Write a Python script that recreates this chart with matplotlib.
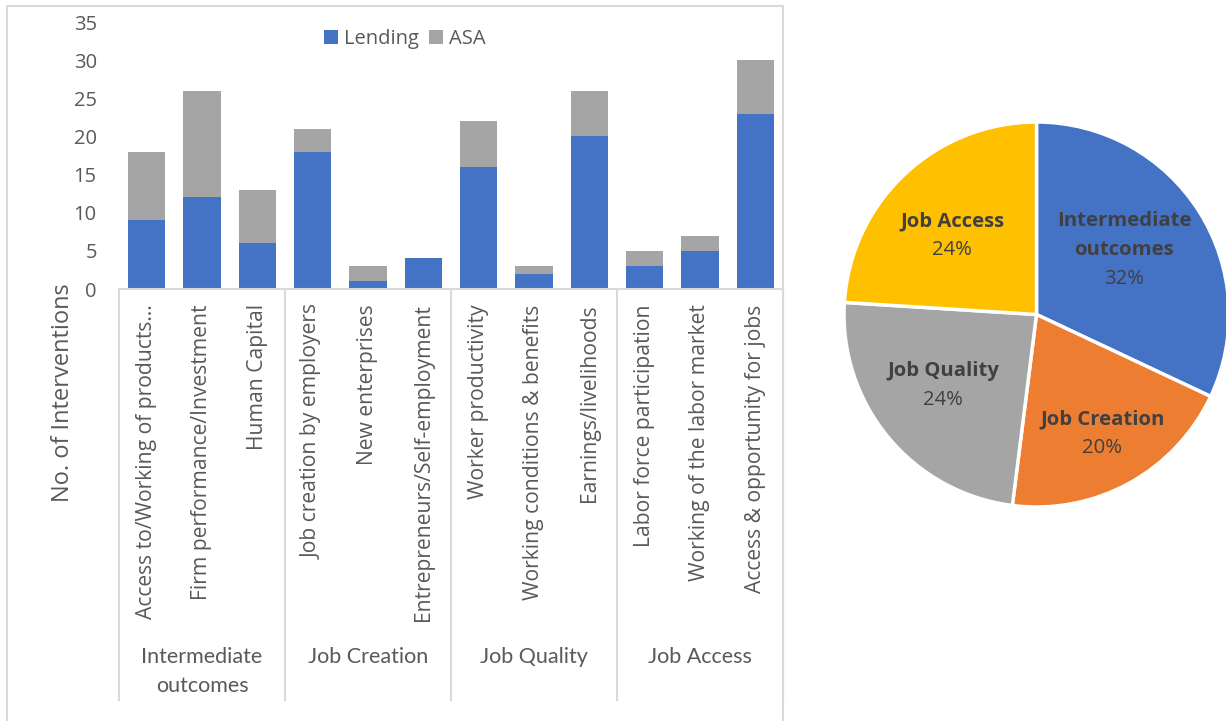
import numpy as np
import matplotlib
matplotlib.use("Agg")
import matplotlib.pyplot as plt
import matplotlib.transforms as mtransforms
from matplotlib.patches import Rectangle

# --- Data ---
categories = [
    "Access to/Working of products\u2026",
    "Firm performance/Investment",
    "Human Capital",
    "Job creation by employers",
    "New enterprises",
    "Entrepreneurs/Self-employment",
    "Worker productivity",
    "Working conditions & benefits",
    "Earnings/livelihoods",
    "Labor force participation",
    "Working of the labor market",
    "Access & opportunity for jobs",
]
groups = ["Intermediate\noutcomes", "Job Creation", "Job Quality", "Job Access"]
group_sizes = [3, 3, 3, 3]
lending = [9, 12, 6, 18, 1, 4, 16, 2, 20, 3, 5, 23]
asa = [9, 14, 7, 3, 2, 0, 6, 1, 6, 2, 2, 7]
yticks = [0, 5, 10, 15, 20, 25, 30, 35]

pie_labels = ["Intermediate\noutcomes", "Job Creation", "Job Quality", "Job Access"]
pie_shares = [32, 20, 24, 24]

# --- Style ---
BLUE = "#4472C4"
GRAY = "#A5A5A5"
ORANGE = "#ED7D31"
YELLOW = "#FFC000"
TXT = "#595959"
LINE = "#D9D9D9"
plt.rcParams["font.family"] = ["Open Sans", "DejaVu Sans"]

W, H = 1226, 721
fig = plt.figure(figsize=(W / 100, H / 100), dpi=100)

# --- Stacked bar chart ---
ax = fig.add_axes([119 / W, 1 - 289 / H, 664 / W, 267 / H])
x = np.arange(len(categories))
ax.bar(x, lending, width=0.67, color=BLUE, label="Lending", zorder=2)
ax.bar(x, asa, bottom=lending, width=0.67, color=GRAY, label="ASA", zorder=2)
ax.set_xlim(-0.5, len(categories) - 0.5)
ax.set_ylim(0, 35)
ax.set_yticks(yticks)
ax.tick_params(axis="y", length=0, pad=16, labelsize=14.5, labelcolor=TXT)
ax.set_xticks(x)
ax.set_xticklabels(categories, rotation=90, ha="center", va="top")
ax.tick_params(axis="x", length=0, pad=11, labelsize=15.2, labelcolor=TXT)
for s in ["top", "right", "left"]:
    ax.spines[s].set_visible(False)
ax.spines["bottom"].set_color(LINE)
ax.spines["bottom"].set_linewidth(1.5)

# group separators and group names below the category labels
blend = mtransforms.blended_transform_factory(ax.transData, fig.transFigure)
edges = np.concatenate([[0], np.cumsum(group_sizes)]) - 0.5
for e in edges:
    ax.plot([e, e], [1 - 289 / H, 1 - 700 / H], color=LINE, lw=1.5,
            transform=blend, clip_on=False, zorder=1)
for g, a, b in zip(groups, edges[:-1], edges[1:]):
    ax.text((a + b) / 2, 1 - 647 / H, g, transform=blend, ha="center", va="top",
            fontsize=15.5, color=TXT, family=["Lato", "DejaVu Sans"], linespacing=1.55)

ax.legend(loc="center", bbox_to_anchor=(0.43, 0.937), ncol=2, frameon=False,
          fontsize=14.5, labelcolor=TXT, handlelength=0.7, handleheight=0.7,
          handletextpad=0.3, columnspacing=0.5)

fig.text(63 / W, 1 - 393 / H, "No. of Interventions", rotation=90,
         ha="center", va="center", fontsize=17, color=TXT)

# chart area border
fig.add_artist(Rectangle((7 / W, -0.02), 776 / W, 1 - 6 / H + 0.02,
                         transform=fig.transFigure, fill=False,
                         edgecolor=LINE, lw=1.5))

# --- Pie chart ---
r_px = 192.5
cx, cy = 1036.5, 314.5
pax = fig.add_axes([(cx - r_px) / W, 1 - (cy + r_px) / H, 2 * r_px / W, 2 * r_px / H])
wedges, _ = pax.pie(pie_shares, colors=[BLUE, ORANGE, GRAY, YELLOW], startangle=90,
                    counterclock=False, radius=1,
                    wedgeprops=dict(edgecolor="white", linewidth=2.5))
pax.set_xlim(-1, 1)
pax.set_ylim(-1, 1)
pax.set_aspect("equal")
pax.axis("off")

# label placement: radial distance and small angle nudge off the bisector
label_dist = [0.565, 0.708, 0.611, 0.601]
label_nudge = [3.7, 0.0, -2.2, 3.7]
line_pt = 20.8
for w, name, pct, d, nd in zip(wedges, pie_labels, pie_shares, label_dist, label_nudge):
    ang = np.deg2rad((w.theta1 + w.theta2) / 2 + nd)
    px, py = d * np.cos(ang), d * np.sin(ang)
    k = name.count("\n") + 1
    pax.annotate(name, (px, py), xytext=(0, line_pt / 2), textcoords="offset points",
                 ha="center", va="center", fontsize=14.6, fontweight="bold",
                 color="#404040", linespacing=1.6, annotation_clip=False)
    pax.annotate(f"{pct}%", (px, py), xytext=(0, -k * line_pt / 2), textcoords="offset points",
                 ha="center", va="center", fontsize=14.6, color="#404040",
                 annotation_clip=False)

fig.savefig("out.png", dpi=100)
